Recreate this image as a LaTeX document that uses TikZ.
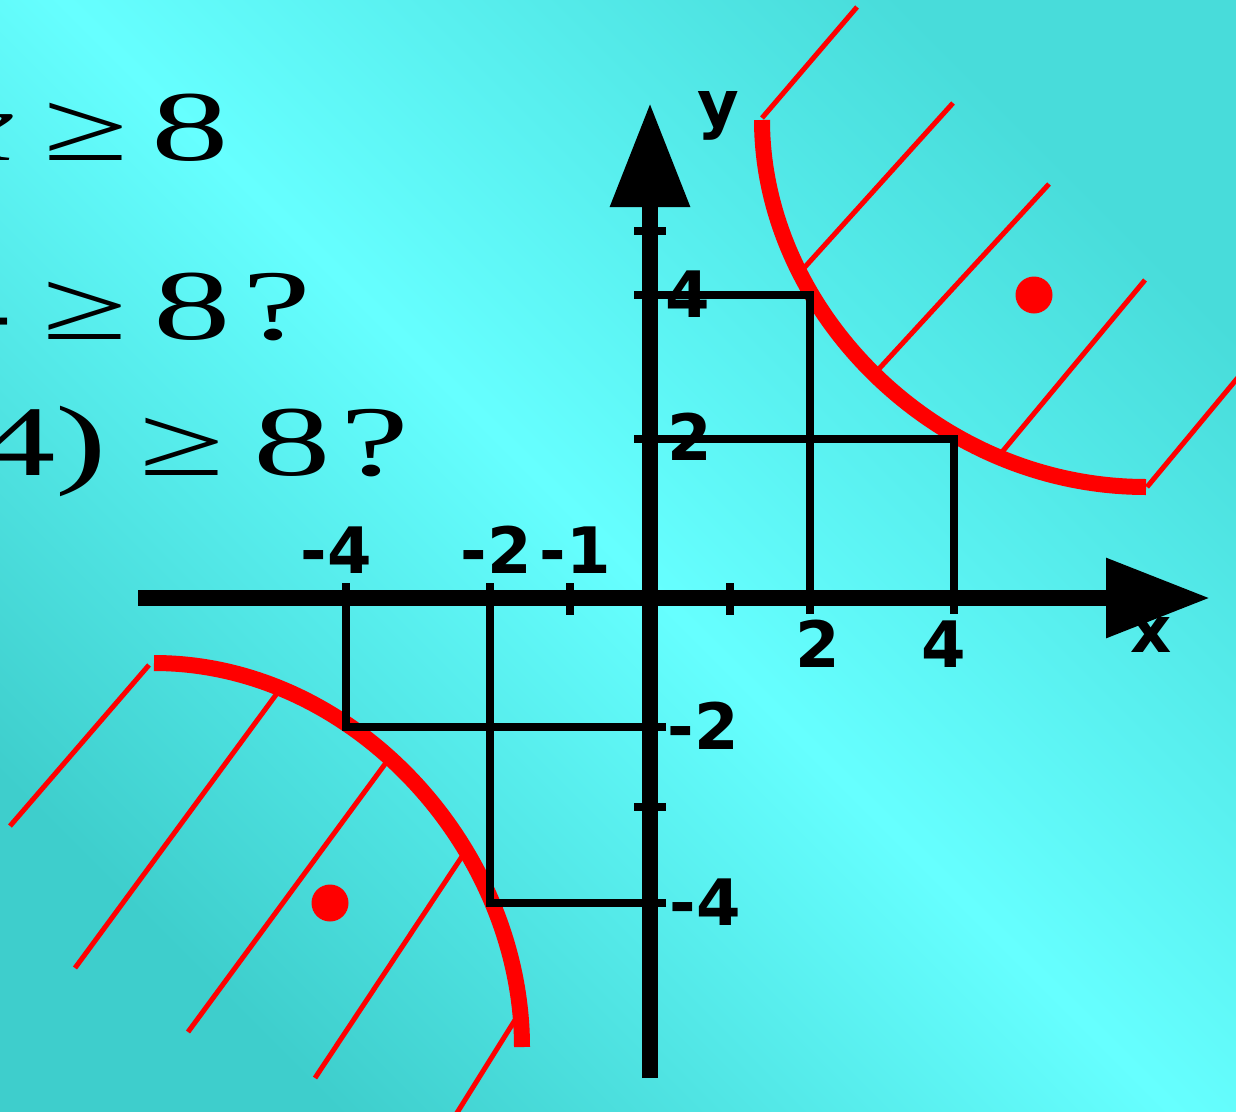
\documentclass[tikz,border=0pt]{standalone}
\usepackage{fontspec}
\usepackage{graphicx}
\usetikzlibrary{arrows.meta}
\newfontfamily\lblfont{DejaVu Sans}
\newfontfamily\eqfont{Liberation Serif}
\newcommand{\wideg}[1]{\scalebox{1.55}[1]{#1}}
\definecolor{bgtr}{RGB}{72,220,218}
\definecolor{bgbl}{RGB}{62,206,204}
\definecolor{bglight}{RGB}{102,255,255}
\begin{document}
\begin{tikzpicture}[x=1pt,y=-1pt,
  axis/.style={line width=16pt,-{Triangle[length=104pt,width=76pt]}},
  gridline/.style={line width=8pt},
  tickmark/.style={line width=8pt},
  curve/.style={red,line width=16pt},
  hatch/.style={red,line width=5pt},
  lbl/.style={font=\lblfont\bfseries\fontsize{64}{64}\selectfont,inner sep=0pt,anchor=base},
  eq/.style={font=\eqfont\fontsize{100}{100}\selectfont,inner sep=0pt,anchor=base},
  dotmark/.style={fill=red,circle,minimum size=37pt,inner sep=0pt}]
\useasboundingbox (0,0) rectangle (1236,1111);
\clip (0,0) rectangle (1236,1111);
\shade[top color=bgtr,bottom color=bgbl,middle color=bglight,shading angle=-45] (-10,-10) rectangle (1246,1121);

% left text
\node[eq] (a1) at (-20,160) {\wideg{\itshape x}};
\node[eq] (a2) at (86.5,160) {\wideg{≥}};
\node[eq] (a3) at (190.5,160) {\wideg{8}};
\node[eq] (b1) at (-29,339) {\wideg{4}};
\node[eq] (b2) at (85,339) {\wideg{≥}};
\node[eq] (b3) at (192.5,339) {\wideg{8}};
\node[eq] (b4) at (277,339) {\wideg{?}};
\node[eq] (c1) at (17,475) {\wideg{4}};
\node[eq] (c2) at (81.5,475) {\wideg{)}};
\node[eq] (c3) at (182.5,475) {\wideg{≥}};
\node[eq] (c4) at (292,475) {\wideg{8}};
\node[eq] (c5) at (375,475) {\wideg{?}};

% red regions
\draw[curve] (762,120) .. controls (762,310) and (935,487) .. (1146,487);
\draw[hatch] (762,118) -- (857,7);
\draw[hatch] (804,268) -- (953,103);
\draw[hatch] (877,371) -- (1049,184);
\draw[hatch] (1002,452) -- (1145,280);
\draw[hatch] (1147,487) -- (1250,363);
\node[dotmark] (p1) at (1034,295) {};

\draw[curve] (154,663) .. controls (355,663) and (522,850) .. (522,1047);
\draw[hatch] (149,665) -- (10,826);
\draw[hatch] (278,692) -- (75,968);
\draw[hatch] (388,760) -- (188,1032);
\draw[hatch] (463,855) -- (315,1078);
\draw[hatch] (515,1020) -- (445,1132);
\node[dotmark] (p2) at (330,903) {};

% black guide lines
\draw[gridline] (634,295) -| (810,614);
\draw[gridline] (634,439) -| (954,614);
\draw[gridline] (666,727) -| (346,583);
\draw[gridline] (666,903) -| (490,583);
\draw[tickmark] (570,583) -- (570,615);
\draw[tickmark] (730,583) -- (730,615);
\draw[tickmark] (634,231) -- (666,231);
\draw[tickmark] (634,807) -- (666,807);

% axes
\coordinate (xs) at (138,598);
\coordinate (xe) at (1210,598);
\coordinate (ys) at (650,1078);
\coordinate (ye) at (650,103);
\draw[axis] (xs) -- (xe);
\draw[axis] (ys) -- (ye);

% labels
\node[lbl] (lxm4) at (336,573) {-4};
\node[lbl] (lxm2) at (496,573) {-2};
\node[lbl] (lxm1) at (575,573) {-1};
\node[lbl] (lx2) at (818,667) {2};
\node[lbl] (lx4) at (944,667) {4};
\node[lbl] (lx) at (1151,652) {x};
\node[lbl] (ly) at (718,126) {y};
\node[lbl] (ly4) at (688,317) {4};
\node[lbl] (ly2) at (690,460) {2};
\node[lbl] (lym2) at (703,749) {-2};
\node[lbl] (lym4) at (705,925) {-4};
\end{tikzpicture}
\end{document}
